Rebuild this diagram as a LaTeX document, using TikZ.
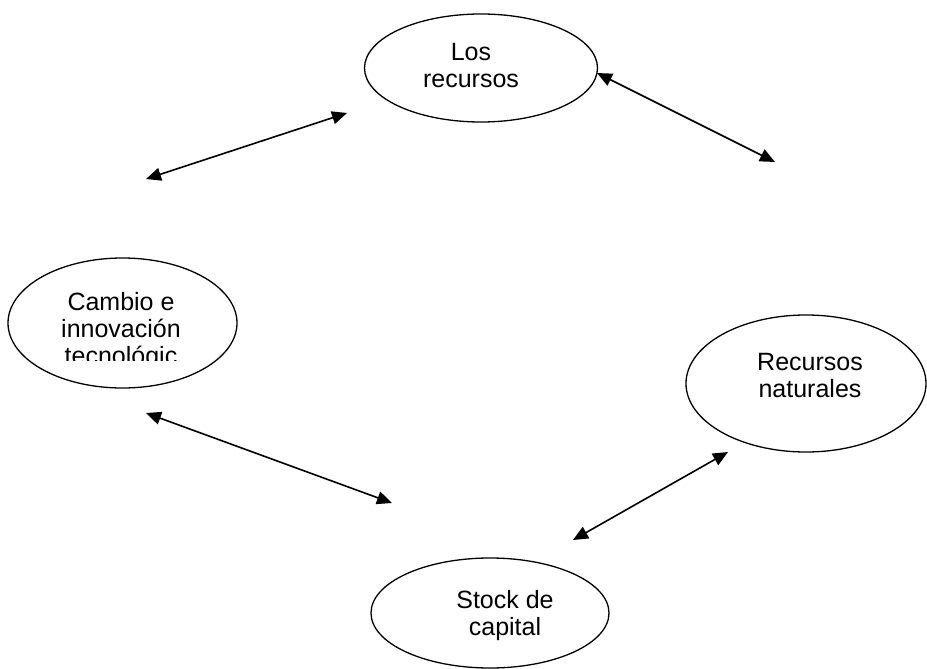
\documentclass[tikz,border=0pt]{standalone}
\usepackage{fontspec}
\setmainfont{Liberation Sans}
\usetikzlibrary{shapes.geometric, arrows.meta, positioning}

\begin{document}
\begin{tikzpicture}[x=1pt, y=-1pt,
        bubble/.style={draw, ellipse, line width=1.3pt, inner sep=0pt},
        label text/.style={align=center, anchor=base, inner sep=0pt,
            font=\fontsize{25}{27}\selectfont},
        link/.style={{Triangle[length=15pt,width=13pt]}-{Triangle[length=15pt,width=13pt]}, line width=1.6pt}]
        \useasboundingbox (0,0) rectangle (927,669);

        % the four ellipses
        \node[bubble, minimum width=233, minimum height=108] (Lr) at (481, 68) {};
        \node[bubble, minimum width=229, minimum height=130] (Ci) at (122.5, 323) {};
        \node[bubble, minimum width=240, minimum height=137] (Rn) at (806, 383.5) {};
        \node[bubble, minimum width=238, minimum height=110] (Sc) at (490, 613) {};

        % texts (base = last line)
        \node[label text] (Lrt) at (471, 88) {Los\\recursos};
        \begin{scope}
            \clip (0, 260) rectangle (250, 360);
            \node[label text] (Cit) at (121, 364) {Cambio e\\innovación\\tecnológic};
        \end{scope}
        \node[label text] (Rnt) at (810, 397) {Recursos\\naturales};
        \node[label text] (Sct) at (505, 635) {Stock de\\capital};

        % arrow ends
        \coordinate (A1) at (146, 179);
        \coordinate (A2) at (347, 113);
        \coordinate (B1) at (597, 73);
        \coordinate (B2) at (775, 162);
        \coordinate (C1) at (146, 413);
        \coordinate (C2) at (392, 503);
        \coordinate (D1) at (728, 452);
        \coordinate (D2) at (573, 540);

        \draw[link] (A1) -- (A2);
        \draw[link] (B1) -- (B2);
        \draw[link] (C1) -- (C2);
        \draw[link] (D1) -- (D2);
\end{tikzpicture}
\end{document}
